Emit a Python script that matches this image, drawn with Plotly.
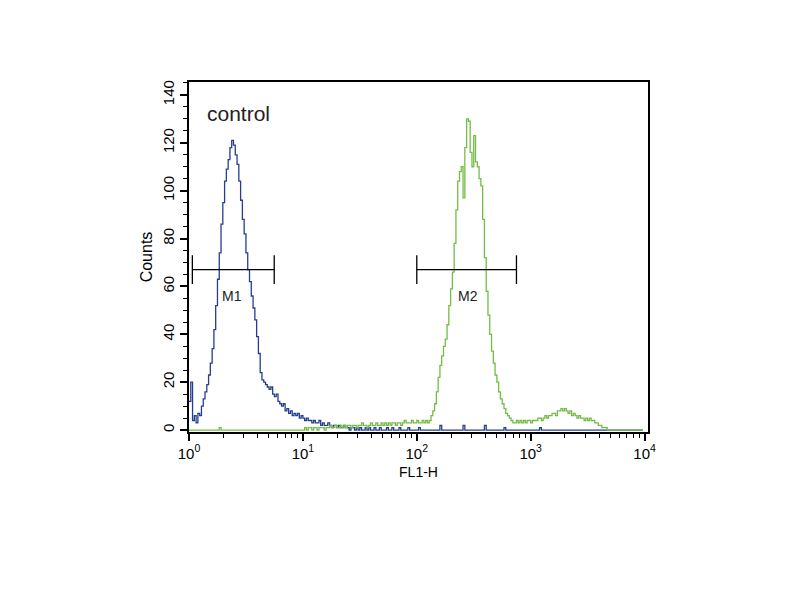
import math
import plotly.graph_objects as go

# flow cytometry histogram, 256 channels over 4 log decades
n_channels = 256
decades = 4

control_counts = [
    12, 20, 4, 6, 3, 7, 6, 10, 13, 16, 19, 23, 28, 34, 42, 52,
    63, 74, 86, 95, 104, 109, 113, 118, 121, 119, 115, 111, 104, 96, 88, 82,
    74, 67, 62, 56, 51, 46, 39, 32, 24, 21, 20, 19, 18, 17, 18, 15,
    14, 15, 12, 11, 10, 11, 8, 9, 7, 8, 6, 7, 6, 7, 5, 6,
    5, 4, 5, 4, 4, 3, 4, 3, 3, 4, 2, 3, 2, 2, 3, 2,
    1, 2, 2, 1, 2, 1, 1, 2, 1, 1, 0, 1, 1, 0, 1, 0,
    1, 0, 0, 1, 0, 1, 0, 0, 1, 0, 0, 1, 0, 0, 0, 1,
    0, 0, 1, 0, 0, 0, 1, 0, 0, 0, 0, 1, 0, 0, 0, 0,
    0, 1, 0, 0, 0, 0, 0, 0, 0, 0, 0, 0, 0, 2, 0, 0,
    0, 0, 0, 0, 0, 0, 0, 0, 0, 0, 2, 0, 0, 0, 0, 0,
    0, 0, 0, 0, 0, 0, 2, 0, 0, 0, 0, 0, 0, 0, 0, 0,
    0, 1, 0, 0, 0, 0, 0, 0, 0, 0, 0, 0, 0, 0, 0, 0,
    0, 0, 0, 0, 0, 1, 0, 0, 0, 0, 0, 0, 0, 0, 0, 0,
    0, 0, 0, 0, 0, 0, 0, 0, 0, 0, 0, 0, 0, 0, 0, 0,
    0, 0, 0, 0, 0, 0, 0, 0, 0, 0, 0, 0, 0, 0, 0, 0,
    0, 0, 0, 0, 0, 0, 0, 0, 0, 0, 0, 0, 0, 0, 0, 0,
]

sample_counts = [
    0, 0, 0, 0, 0, 0, 0, 0, 0, 0, 0, 0, 0, 0, 0, 0,
    0, 1, 0, 0, 0, 0, 0, 0, 0, 0, 0, 0, 0, 0, 0, 0,
    0, 0, 0, 0, 0, 0, 0, 0, 0, 0, 0, 0, 0, 0, 0, 0,
    0, 0, 0, 0, 0, 0, 0, 0, 0, 0, 0, 0, 0, 0, 0, 0,
    0, 1, 0, 1, 1, 0, 1, 1, 0, 1, 1, 1, 0, 1, 1, 2,
    1, 1, 2, 1, 1, 2, 1, 2, 1, 2, 2, 1, 2, 2, 1, 2,
    2, 3, 2, 2, 1, 2, 3, 2, 2, 3, 2, 2, 3, 2, 3, 2,
    3, 2, 3, 3, 2, 3, 3, 2, 3, 4, 3, 3, 3, 4, 3, 3,
    4, 3, 3, 4, 3, 4, 3, 4, 6, 8, 11, 16, 22, 27, 31, 35,
    38, 44, 52, 59, 66, 78, 92, 104, 108, 110, 97, 118, 130, 129, 116, 110,
    123, 112, 110, 105, 102, 88, 72, 58, 48, 40, 33, 28, 23, 20, 16, 13,
    11, 9, 7, 6, 5, 4, 3, 3, 4, 3, 4, 3, 4, 3, 4, 4,
    3, 4, 4, 4, 5, 5, 4, 5, 6, 5, 6, 6, 7, 7, 6, 8,
    8, 9, 8, 9, 8, 7, 8, 6, 7, 6, 5, 6, 5, 5, 4, 5,
    4, 5, 4, 4, 3, 3, 2, 2, 1, 1, 1, 0, 0, 0, 0, 0,
    0, 0, 0, 0, 0, 0, 0, 0, 0, 0, 0, 0, 0, 0, 0, 0,
]

# gate markers
marker_names = ["M1", "M2"]
marker_start = [1.07, 100]
marker_end = [5.6, 750]
marker_level = [67, 67]
marker_label_x = [2.38, 280]

decade_vals = [1, 10, 100, 1000, 10000]
decade_text = ["10<sup>0</sup>", "10<sup>1</sup>", "10<sup>2</sup>", "10<sup>3</sup>", "10<sup>4</sup>"]
minor_vals = [m * d for d in [1, 10, 100, 1000] for m in range(2, 10)]

fl1 = [10 ** (i * decades / n_channels) for i in range(n_channels)]

fig = go.Figure()

fig.add_trace(go.Scatter(x=fl1, y=control_counts, mode="lines", line_shape="hv",
                         line=dict(color="#243f8e", width=1.3), showlegend=False))
fig.add_trace(go.Scatter(x=fl1, y=sample_counts, mode="lines", line_shape="hv",
                         line=dict(color="#74bd45", width=1.3), showlegend=False))

# marker bars with end caps
for name, x0, x1, lvl, lx in zip(marker_names, marker_start, marker_end, marker_level, marker_label_x):
    fig.add_trace(go.Scatter(x=[x0, x1], y=[lvl, lvl], mode="lines",
                             line=dict(color="black", width=1.3), showlegend=False))
    for xe in (x0, x1):
        fig.add_trace(go.Scatter(x=[xe, xe], y=[lvl - 6, lvl + 6], mode="lines",
                                 line=dict(color="black", width=1.3), showlegend=False))
    # annotations on a log axis take log10 positions
    fig.add_annotation(x=math.log10(lx), y=lvl - 7, xref="x", yref="y", text=name, showarrow=False,
                       yanchor="top", font=dict(size=14, color="#222"))

fig.add_annotation(x=0.035, y=0.911, xref="paper", yref="paper", text="control",
                   showarrow=False, xanchor="left", yanchor="middle",
                   font=dict(size=21, color="#222"))

fig.update_layout(
    width=800, height=600,
    margin=dict(l=181, r=160, t=74, b=176),
    paper_bgcolor="white", plot_bgcolor="white",
    font=dict(family="Arial, Liberation Sans, sans-serif", color="black"),
    xaxis=dict(
        type="log", range=[0, 4.03],
        tickvals=decade_vals, ticktext=decade_text,
        ticks="outside", ticklen=7, tickwidth=1.5, tickcolor="black",
        minor=dict(tickvals=minor_vals, ticks="outside", ticklen=4, tickcolor="black", tickwidth=1.3),
        showgrid=False, zeroline=False,
        showline=True, linecolor="black", linewidth=1.5, mirror=True,
        tickfont=dict(size=15),
        title=dict(text="FL1-H", font=dict(size=14), standoff=6),
    ),
    yaxis=dict(
        range=[-0.8, 145.4],
        tickvals=[0, 20, 40, 60, 80, 100, 120, 140],
        ticks="outside", ticklen=7, tickwidth=1.5, tickcolor="black",
        minor=dict(dtick=5, ticks="outside", ticklen=4, tickcolor="black", tickwidth=1.3),
        tickangle=-90,
        showgrid=False, zeroline=False,
        showline=True, linecolor="black", linewidth=1.5, mirror=True,
        tickfont=dict(size=15),
        title=dict(text="Counts", font=dict(size=16), standoff=4),
    ),
)

fig.write_html("out.html")
